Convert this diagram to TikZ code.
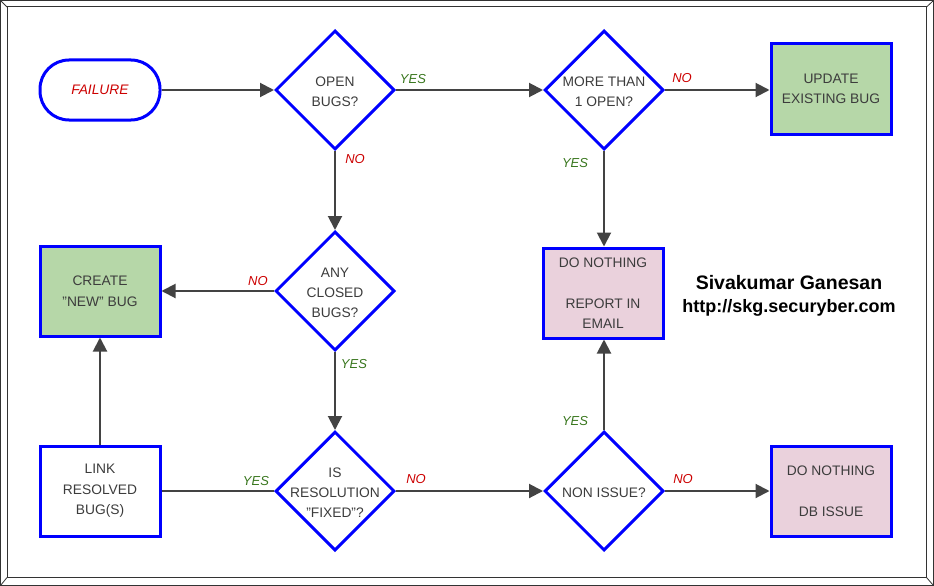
\documentclass[tikz,border=0pt]{standalone}
\usepackage{fontspec}
\setmainfont{Liberation Sans}
\usetikzlibrary{arrows.meta, positioning, shapes.geometric}
\definecolor{bugblue}{HTML}{0000FF}
\definecolor{okgreen}{HTML}{B6D7A8}
\definecolor{nopink}{HTML}{EAD1DC}
\definecolor{txtgray}{HTML}{3C3C3C}
\definecolor{linegray}{HTML}{434343}
\definecolor{yesgreen}{HTML}{38761D}
\definecolor{nored}{HTML}{CC0000}

\begin{document}
\begin{tikzpicture}[x=1pt, y=-1pt,
    box/.style={draw=bugblue, line width=3pt, minimum width=120pt, minimum height=90pt,
        inner sep=0pt, align=center, text=txtgray, font=\fontsize{13.8}{20.5}\selectfont},
    decision/.style={draw=bugblue, line width=3pt, diamond, minimum width=119pt,
        minimum height=119pt, inner sep=0pt},
    qtext/.style={text=txtgray, align=center, yshift=-2pt, font=\fontsize{13.8}{20}\selectfont},
    flow/.style={draw=linegray, line width=2pt, -{Triangle[length=14pt, width=14pt]}},
    yeslbl/.style={text=yesgreen, font=\fontsize{13}{14}\selectfont\itshape},
    nolbl/.style={text=nored, font=\fontsize{13}{14}\selectfont\itshape}]
    \useasboundingbox (0,0) rectangle (934,586);

    % frame
    \draw[line width=1pt, black!80] (0.6,0.6) rectangle (933.4,585.4);
    \draw[line width=1pt, black!80] (7,7) rectangle (926.5,577.5);
    \draw[line width=0.8pt, black!80] (0.6,0.6) -- (7,7) (933.4,0.6) -- (926.5,7)
        (0.6,585.4) -- (7,577.5) (933.4,585.4) -- (926.5,577.5);

    % top row
    \node[box, rounded corners=29pt, minimum height=60pt, text=nored,
        font=\fontsize{13.8}{16}\selectfont\itshape] (failure) at (100,90) {FAILURE};
    \node[decision, label={[qtext]center:{OPEN\\BUGS?}}] (openbugs) at (335,90) {};
    \node[decision, label={[qtext]center:{MORE THAN\\1 OPEN?}}] (moreone) at (604,90) {};
    \node[box, fill=okgreen] (update) at (831,89) {UPDATE\\EXISTING BUG};

    % middle row
    \node[box, fill=okgreen] (create) at (100,291) {CREATE\\"NEW" BUG};
    \node[decision, label={[qtext]center:{ANY\\CLOSED\\BUGS?}}] (anyclosed) at (335,291) {};
    \node[box, fill=nopink] (report) at (603,293) {DO NOTHING\\[20.5pt]REPORT IN\\EMAIL};
    \node[anchor=base, font=\fontsize{19.5}{22}\selectfont\bfseries] (author) at (789,289) {Sivakumar Ganesan};
    \node[anchor=base, font=\fontsize{18}{20}\selectfont\bfseries] (site) at (789,312) {http://skg.securyber.com};

    % bottom row
    \node[box] (link) at (100,491) {LINK\\RESOLVED\\BUG(S)};
    \node[decision, label={[qtext]center:{IS\\RESOLUTION\\"FIXED"?}}] (isfixed) at (335,491) {};
    \node[decision, label={[qtext]center:{NON ISSUE?}}] (nonissue) at (604,491) {};
    \node[box, fill=nopink] (dbissue) at (831,491) {DO NOTHING\\[20.5pt]DB ISSUE};

    % connectors
    \draw[flow] (failure) -- (openbugs);
    \draw[flow] (openbugs) -- node[yeslbl, pos=0, xshift=17pt, yshift=11pt] {YES} (moreone);
    \draw[flow] (moreone) -- node[nolbl, pos=0, xshift=17pt, yshift=12pt] {NO} (update.west |- moreone);
    \draw[flow] (moreone) -- node[yeslbl, pos=0, xshift=-29pt, yshift=-12pt] {YES} (report.north -| moreone);
    \draw[flow] (openbugs) -- node[nolbl, pos=0, xshift=20pt, yshift=-8pt] {NO} (anyclosed);
    \draw[flow] (anyclosed) -- node[nolbl, pos=0, xshift=-16pt, yshift=10pt] {NO} (create);
    \draw[flow] (anyclosed) -- node[yeslbl, pos=0, xshift=19pt, yshift=-12pt] {YES} (isfixed);
    \draw[draw=linegray, line width=2pt] (isfixed) -- node[yeslbl, pos=0, xshift=-18pt, yshift=10pt] {YES} (link);
    \draw[flow] (link) -- (create);
    \draw[flow] (isfixed) -- node[nolbl, pos=0, xshift=20pt, yshift=12pt] {NO} (nonissue);
    \draw[flow] (nonissue) -- node[yeslbl, pos=0, xshift=-29pt, yshift=9pt] {YES} (report.south -| nonissue);
    \draw[flow] (nonissue) -- node[nolbl, pos=0, xshift=18pt, yshift=12pt] {NO} (dbissue);
\end{tikzpicture}
\end{document}
